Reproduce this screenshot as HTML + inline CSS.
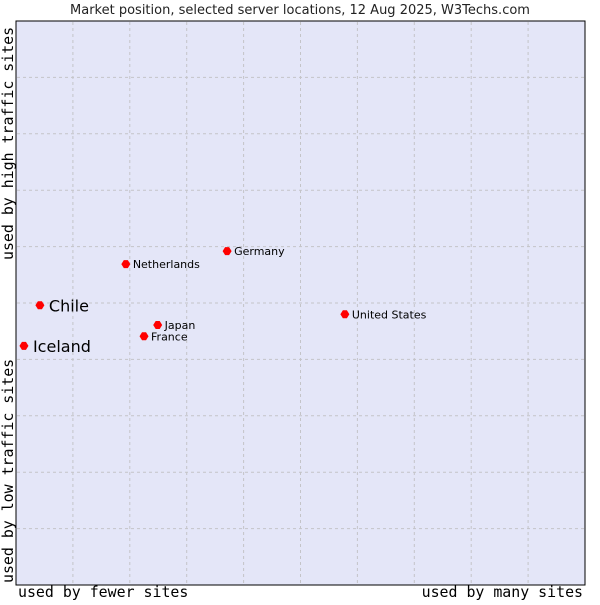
<!DOCTYPE html>
<html><head><meta charset="utf-8"><style>
body{margin:0;background:#fff;width:600px;height:600px;overflow:hidden}
svg text{font-family:"DejaVu Sans","Liberation Sans",sans-serif}
.mono{font-family:"DejaVu Sans Mono","Liberation Mono",monospace;font-size:14.9px}
</style></head><body>
<svg id="chart" width="600" height="600" xmlns="http://www.w3.org/2000/svg">
<text x="300" y="14" text-anchor="middle" font-size="13" fill="#222">Market position, selected server locations, 12 Aug 2025, W3Techs.com</text>
<rect x="16" y="21" width="569" height="564" fill="#e4e6f8" stroke="#000" stroke-width="1"/>
<g id="grid"></g>
<g id="points"></g>
<text class="mono" x="18" y="597">used by fewer sites</text>
<text class="mono" x="583" y="597" text-anchor="end">used by many sites</text>
<text class="mono" transform="translate(13,583) rotate(-90)">used by low traffic sites</text>
<text class="mono" transform="translate(13,260) rotate(-90)">used by high traffic sites</text>
</svg>
<script>
const names=["Iceland","Chile","Netherlands","Germany","Japan","France","United States"];
const xVals=[1.4,4.2,19.3,37.1,24.9,22.5,57.8];
const yVals=[42.4,49.6,56.9,59.2,46.1,44.1,48.0];
const big=[true,true,false,false,false,false,false];
const L=16,T=21,W=569,H=564;
const sx=v=>L+v/100*W, sy=v=>T+H-v/100*H;
const ns="http://www.w3.org/2000/svg";
const g=document.getElementById('grid');
for(let i=1;i<10;i++){
  let a=document.createElementNS(ns,'line');
  
  
  a.setAttribute('x1',sx(i*10));a.setAttribute('x2',sx(i*10));a.setAttribute('y1',T+1);a.setAttribute('y2',T+H-1);
  a.setAttribute('stroke','#c4c4c8');a.setAttribute('stroke-dasharray','3,3');g.appendChild(a);
  let b=document.createElementNS(ns,'line');
  
  
  b.setAttribute('y1',sy(i*10));b.setAttribute('y2',sy(i*10));b.setAttribute('x1',L+1);b.setAttribute('x2',L+W-1);
  b.setAttribute('stroke','#c4c4c8');b.setAttribute('stroke-dasharray','3,3');g.appendChild(b);
}
const p=document.getElementById('points');
names.forEach((n,i)=>{
  const x=sx(xVals[i]),y=sy(yVals[i]);
  let d=document.createElementNS(ns,'path');
  
  
  d.setAttribute('d',`M${x-4.5},${y}L${x-2},${y-4}L${x+2},${y-4}L${x+4.5},${y}L${x+2},${y+4}L${x-2},${y+4}Z`);
  d.setAttribute('fill','#ff0000');p.appendChild(d);
  let t=document.createElementNS(ns,'text');
  
  
  t.setAttribute('x',x+(big[i]?9:7));t.setAttribute('y',y+(big[i]?6:4));
  t.setAttribute('font-size',big[i]?16:11);t.setAttribute('fill','#000');
  t.textContent=n;p.appendChild(t);
});
</script>
</body></html>
